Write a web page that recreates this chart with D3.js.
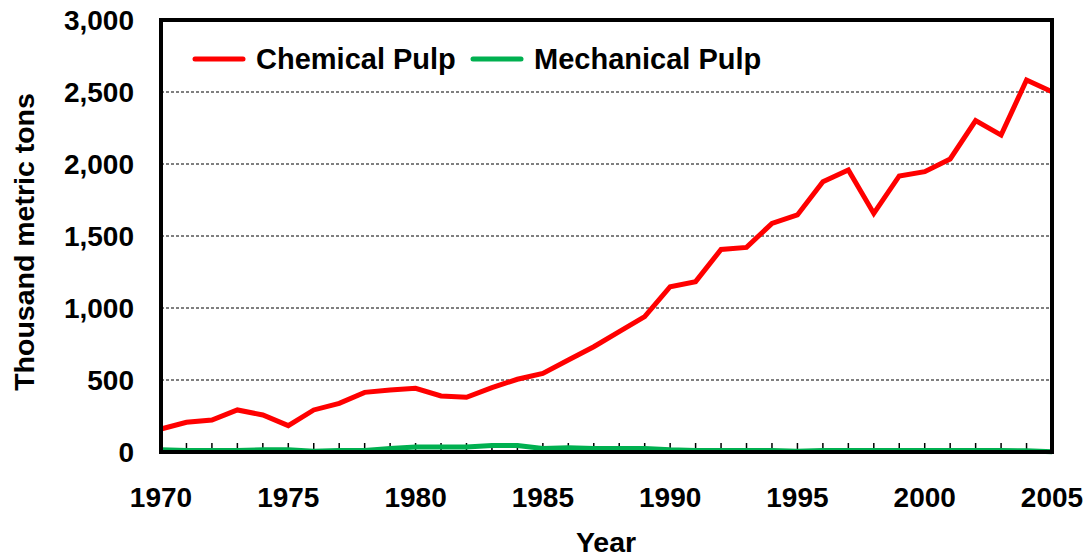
<!DOCTYPE html>
<html>
<head>
<meta charset="utf-8">
<script src="https://cdn.jsdelivr.net/npm/d3@7"></script>
<style>
  body { margin: 0; background: #fff; }
  text { font-family: "Liberation Sans", Arial, sans-serif; font-weight: bold; fill: #000; }
</style>
</head>
<body>
<svg id="chart"></svg>
<script>
 var width = 1086;
 var height = 552;

 // chart data
 const years = d3.range(1970, 2006);
 const chemicalPulp = [160, 206, 222, 292, 257, 183, 292, 338, 414, 430,
   442, 389, 380, 447, 505, 546, 639, 731, 836, 940,
   1148, 1183, 1407, 1421, 1588, 1646, 1877, 1958, 1657, 1917,
   1947, 2035, 2301, 2201, 2583, 2502];
 const mechanicalPulp = [15, 10, 10, 10, 15, 15, 5, 10, 10, 25,
   35, 35, 35, 45, 45, 25, 30, 25, 25, 25,
   15, 10, 10, 10, 10, 5, 10, 10, 10, 10,
   10, 10, 10, 10, 8, 2];
 const seriesNames = ["Chemical Pulp", "Mechanical Pulp"];
 const seriesColors = ["#ff0000", "#00b050"];
 const yTicks = [0, 500, 1000, 1500, 2000, 2500, 3000];
 const xTicks = [1970, 1975, 1980, 1985, 1990, 1995, 2000, 2005];

 const margin = { top: 20, right: 34, bottom: 100, left: 161 };
 const innerW = width - margin.left - margin.right;
 const innerH = height - margin.top - margin.bottom;

 const svg = d3.select("#chart")
   .attr("width", width)
   .attr("height", height);

 const g = svg.append("g")
   .attr("transform", `translate(${margin.left}, ${margin.top})`);

 const x = d3.scaleLinear().domain([1970, 2005]).range([0, innerW]);
 const y = d3.scaleLinear().domain([0, 3000]).range([innerH, 0]);

 // dashed gridlines
 g.selectAll(".grid")
   .data(yTicks.filter(d => d > 0 && d < 3000))
   .enter()
   .append("line")
   .attr("x1", 0)
   .attr("x2", innerW)
   .attr("y1", d => y(d))
   .attr("y2", d => y(d))
   .attr("stroke", "#000")
   .attr("stroke-width", 1)
   .attr("stroke-dasharray", "3,2");

 // small year ticks inside the bottom axis
 g.selectAll(".yeartick")
   .data(years.slice(1, -1))
   .enter()
   .append("line")
   .attr("x1", d => x(d))
   .attr("x2", d => x(d))
   .attr("y1", innerH)
   .attr("y2", innerH - 9)
   .attr("stroke", "#000")
   .attr("stroke-width", 1.5);

 const line = d3.line()
   .x((d, i) => x(years[i]))
   .y(d => y(d));

 [mechanicalPulp, chemicalPulp].forEach((s, k) => {
   g.append("path")
     .datum(s)
     .attr("fill", "none")
     .attr("stroke", seriesColors[1 - k])
     .attr("stroke-width", 5)
     .attr("stroke-linejoin", "miter")
     .attr("d", line);
 });

 // plot frame
 g.append("rect")
   .attr("x", 0)
   .attr("y", 0)
   .attr("width", innerW)
   .attr("height", innerH)
   .attr("fill", "none")
   .attr("stroke", "#000")
   .attr("stroke-width", 4);

 // y tick labels
 g.selectAll(".ylab")
   .data(yTicks)
   .enter()
   .append("text")
   .attr("x", -27)
   .attr("y", d => y(d))
   .attr("dy", "0.36em")
   .attr("text-anchor", "end")
   .style("font-size", "28px")
   .text(d => d3.format(",")(d));

 // x tick labels
 g.selectAll(".xlab")
   .data(xTicks)
   .enter()
   .append("text")
   .attr("x", d => x(d))
   .attr("y", innerH + 55)
   .attr("text-anchor", "middle")
   .style("font-size", "28px")
   .text(d => d);

 // axis titles
 svg.append("text")
   .attr("transform", `translate(34, ${margin.top + innerH / 2 + 6}) rotate(-90)`)
   .attr("text-anchor", "middle")
   .style("font-size", "28.5px")
   .text("Thousand metric tons");

 svg.append("text")
   .attr("x", 606)
   .attr("y", 552)
   .attr("text-anchor", "middle")
   .style("font-size", "28.5px")
   .text("Year");

 // legend
 const legendX = [195, 473];
 const legend = svg.selectAll(".legend-item")
   .data(seriesNames)
   .enter()
   .append("g")
   .attr("transform", (d, i) => `translate(${legendX[i]}, 59)`);

 legend.append("line")
   .attr("x1", 0)
   .attr("x2", 48)
   .attr("stroke", (d, i) => seriesColors[i])
   .attr("stroke-width", 5)
   .attr("stroke-linecap", "round");

 legend.append("text")
   .attr("x", 61)
   .attr("dy", "0.36em")
   .style("font-size", "29px")
   .text(d => d);
</script>
</body>
</html>
